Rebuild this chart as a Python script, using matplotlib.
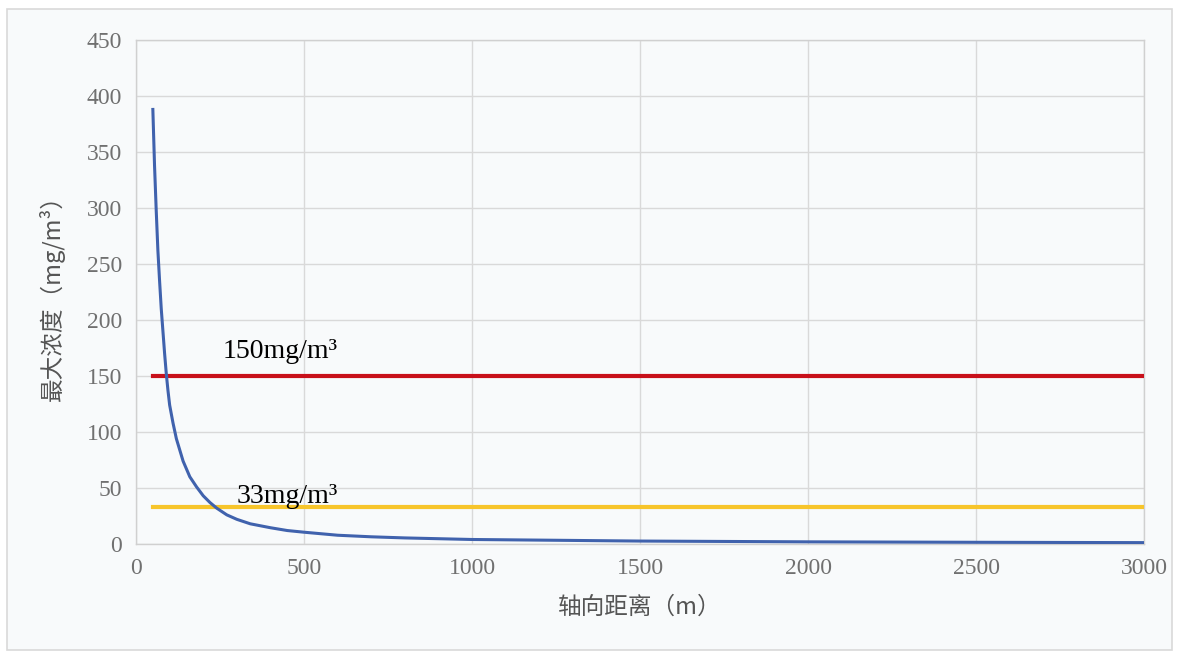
import matplotlib
matplotlib.use("Agg")
import matplotlib.pyplot as plt
from matplotlib.patches import Rectangle

plt.rcParams['font.family'] = ['Noto Sans CJK SC', 'DejaVu Sans']

# distance along the axis (m) and max concentration (mg/m3)
distance = [50, 55, 60, 65, 70, 75, 80, 85, 90, 95, 100, 110, 120, 140, 160, 180,
            200, 220, 240, 270, 300, 340, 400, 450, 500, 600, 700, 800, 1000,
            1500, 2000, 2500, 3000]
concentration = [388, 338, 298, 262, 235, 210, 190, 170, 152, 137, 124, 108, 94,
                 74, 60, 51, 43, 37, 32, 26, 22, 18, 14.5, 12, 10.5, 7.8, 6.4, 5.4,
                 4, 2.6, 1.9, 1.5, 1.2]

limit_x = [50, 3000]
limit_150 = [150, 150]
limit_33 = [33, 33]

xticks = [0, 500, 1000, 1500, 2000, 2500, 3000]
yticks = [0, 50, 100, 150, 200, 250, 300, 350, 400, 450]

fig = plt.figure(figsize=(11.81, 6.58), dpi=100)
fig.patch.set_facecolor('white')
# light frame around the chart area
fig.patches.append(Rectangle((0.006, 0.012), 0.986, 0.975, transform=fig.transFigure,
                             facecolor='#f8fafb', edgecolor='#d9d9d9', lw=1.2, zorder=-1))

ax = fig.add_axes([0.1152, 0.1733, 0.8535, 0.7659])
ax.set_facecolor('#f8fafb')

ax.plot(limit_x, limit_150, color='#c8101a', lw=3.0, zorder=3)
ax.plot(limit_x, limit_33, color='#f7c52b', lw=3.0, zorder=3)
ax.plot(distance, concentration, color='#4062ad', lw=2.2, zorder=4)

ax.text(259, 166, '150mg/m³', family='Liberation Serif', fontsize=20, color='black')
ax.text(298, 37, '33mg/m³', family='Liberation Serif', fontsize=20, color='black')

ax.set_xlim(0, 3000)
ax.set_ylim(0, 450)
ax.set_xticks(xticks)
ax.set_yticks(yticks)
ax.grid(True, color='#d9d9d9', lw=1.0)
ax.set_axisbelow(True)
for s in ax.spines.values():
    s.set_color('#d0d0d0')
    s.set_linewidth(1.0)
ax.tick_params(length=0, labelcolor='#707070', labelsize=17, pad=10)
for lab in ax.get_xticklabels() + ax.get_yticklabels():
    lab.set_family('Liberation Serif')

ax.set_xlabel('轴向距离（m）', fontsize=17, color='#555555', labelpad=12)
ax.set_ylabel('最大浓度（mg/m³）', fontsize=17, color='#555555', labelpad=16)

fig.savefig('out.png', dpi=100)
